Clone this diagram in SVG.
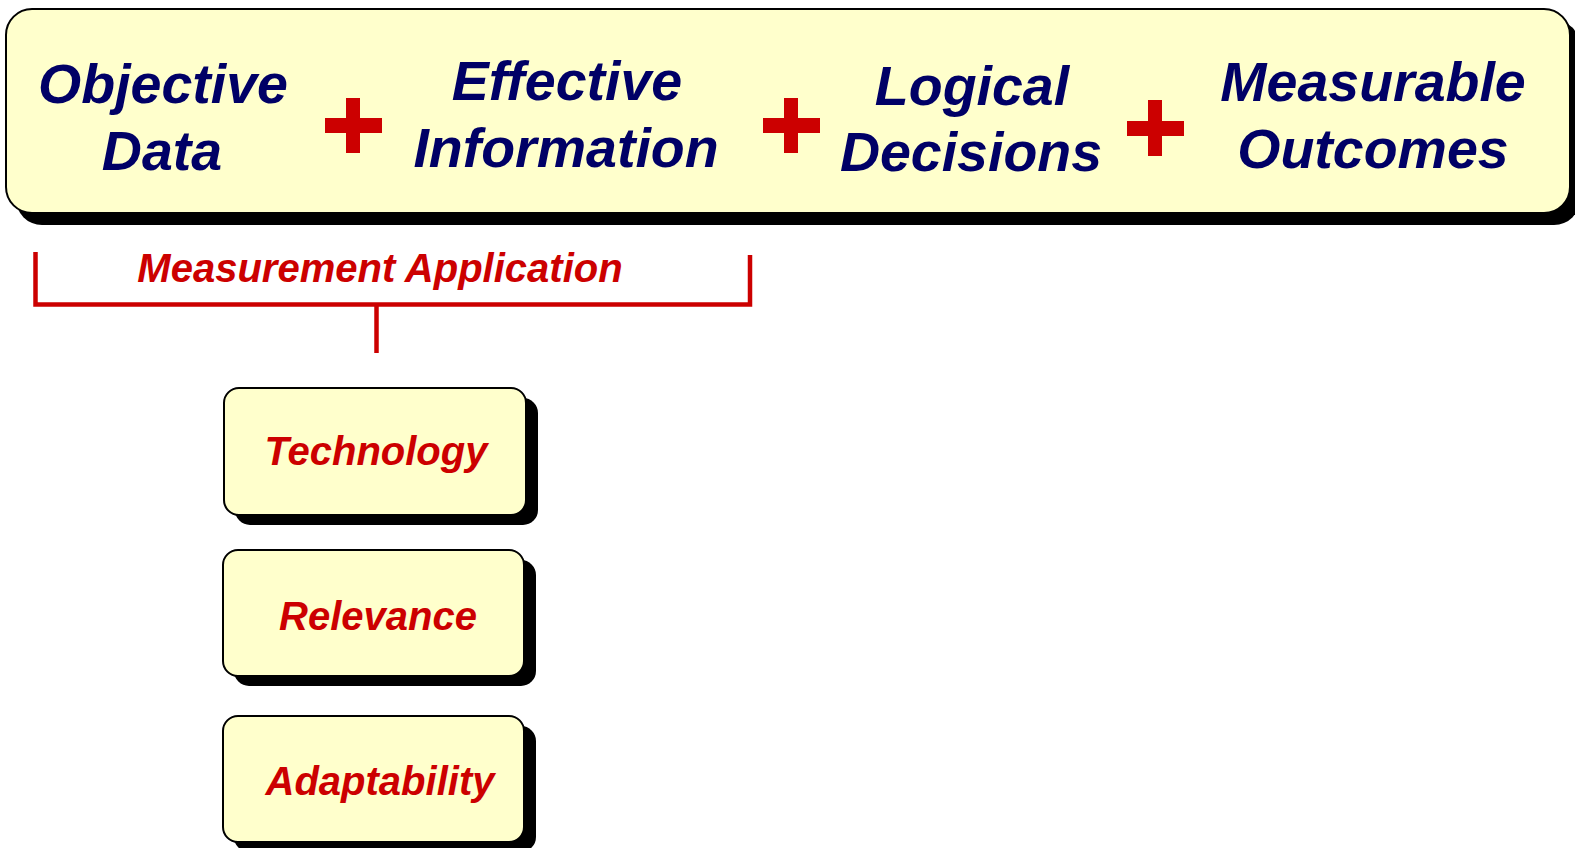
<svg xmlns="http://www.w3.org/2000/svg" width="1575" height="848" viewBox="0 0 1575 848">
<style>
.box{fill:#FFFFCC;stroke:#000;stroke-width:2}
.shadow{fill:#000}
.big{font-family:"Liberation Sans",Arial,sans-serif;font-weight:bold;font-style:italic;font-size:55.5px;fill:#000066;text-anchor:middle}
.red{font-family:"Liberation Sans",Arial,sans-serif;font-weight:bold;font-style:italic;font-size:40px;fill:#CC0000;text-anchor:middle}
.plus{fill:#CC0000}
.line{stroke:#CC0000;stroke-width:4.5;fill:none}
</style>
<rect width="1575" height="848" fill="#fff"/>
<g id="header">
<rect class="shadow" x="16" y="20" width="1564" height="205" rx="26"/>
<rect class="box" x="6" y="9" width="1564" height="204" rx="26"/>
<text class="big" x="163" y="103">Objective</text>
<text class="big" x="162" y="170">Data</text>
<text class="big" x="567" y="100">Effective</text>
<text class="big" x="566" y="167">Information</text>
<text class="big" x="972" y="105">Logical</text>
<text class="big" x="971" y="171">Decisions</text>
<text class="big" x="1373" y="101">Measurable</text>
<text class="big" x="1373" y="168">Outcomes</text>
<g class="plus">
<rect x="346" y="98" width="14" height="55"/><rect x="325" y="118" width="57" height="15"/>
<rect x="784" y="98" width="14" height="55"/><rect x="763" y="118" width="57" height="15"/>
<rect x="1148" y="100" width="14" height="56"/><rect x="1127" y="121" width="57" height="15"/>
</g>
</g>
<g id="connectors">
<path class="line" d="M35.5 252 V304.5 H750 V255"/>
<path class="line" d="M376.5 304.5 V353"/>
<text class="red" x="380" y="282" font-size="39">Measurement Application</text>
</g>
<g id="technology">
<rect class="shadow" x="235" y="398" width="303" height="127" rx="15"/>
<rect class="box" x="224" y="388" width="302" height="127" rx="15"/>
<text class="red" x="376" y="465">Technology</text>
</g>
<g id="relevance">
<rect class="shadow" x="234" y="560" width="302" height="126" rx="15"/>
<rect class="box" x="223" y="550" width="301" height="126" rx="15"/>
<text class="red" x="378" y="630">Relevance</text>
</g>
<g id="adaptability">
<rect class="shadow" x="234" y="726" width="302" height="126" rx="15"/>
<rect class="box" x="223" y="716" width="301" height="126" rx="15"/>
<text class="red" x="380" y="795">Adaptability</text>
</g>
</svg>
